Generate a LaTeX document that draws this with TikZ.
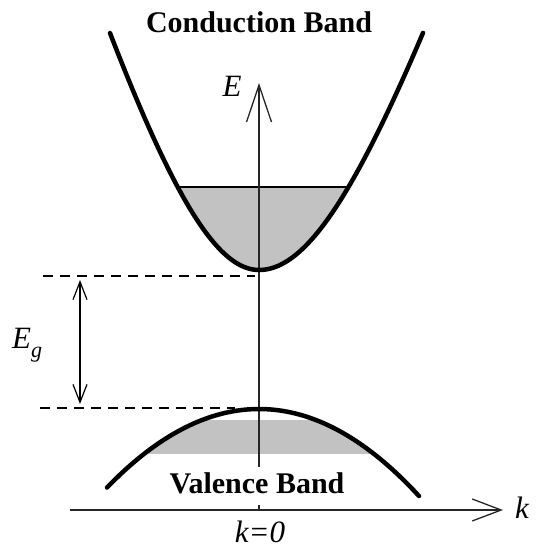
\documentclass[tikz,border=0pt]{standalone}
\usepackage{fontspec}
\setmainfont{Liberation Serif}
\usetikzlibrary{arrows.meta}
\definecolor{bandfill}{RGB}{194,194,194}
\begin{document}
\begin{tikzpicture}[x=1pt,y=-1pt,
  band/.style={line width=4.5pt, line join=round, line cap=round},
  axis/.style={line width=1.3pt, black!85},
  guide/.style={line width=1.3pt, dash pattern=on 10pt off 7pt},
  gaparrow/.style={line width=1.2pt, {Straight Barb[length=18pt,width=14pt]}-{Straight Barb[length=18pt,width=14pt]}},
  bandlabel/.style={font=\fontsize{30}{30}\selectfont\bfseries, inner sep=0pt, anchor=base},
  varlabel/.style={font=\fontsize{31}{31}\selectfont\itshape, inner sep=0pt, anchor=base},
]
\useasboundingbox (0,0) rectangle (535,548);

% coordinates
\coordinate (vbot) at (259,467);
\coordinate (vtop) at (259,83);
\coordinate (kL) at (70,510);
\coordinate (kR) at (503,510);
\coordinate (tickT) at (259,505);
\coordinate (tickB) at (259,510);
\coordinate (cMinL) at (43,276);
\coordinate (cMinR) at (255,276);
\coordinate (vMaxL) at (40,408);
\coordinate (vMaxR) at (235,408);
\coordinate (gT) at (80,280);
\coordinate (gB) at (80,404);
\coordinate (cfL) at (177.7,187);
\coordinate (cfR) at (348.5,187);

% conduction band filling
\begin{scope}
  \clip plot[domain=-149:0,samples=60] ({259+\x},{270-396.6*(sqrt(1+(\x/119.6)^2)-1)})
     -- plot[domain=0:164,samples=60] ({259+\x},{270-396.6*(sqrt(1+(\x/131.6)^2)-1)}) -- cycle;
  \fill[bandfill] (100,187) rectangle (430,280);
\end{scope}
\draw[line width=1.2pt] (cfL) -- (cfR);

% valence band filling
\begin{scope}
  \clip plot[domain=-152:160,samples=80] ({259+\x},{409+(0.05831*\x)*(0.05831*\x)}) -- cycle;
  \fill[bandfill] (100,420) rectangle (430,454);
\end{scope}

% guides
\draw[guide] (cMinL) -- (cMinR);
\draw[guide] (vMaxL) -- (vMaxR);
\draw[gaparrow] (gT) -- (gB);

% axes
\draw[axis, -{Straight Barb[length=37pt,width=25pt]}] (vbot) -- (vtop);
\draw[axis, -{Straight Barb[length=29pt,width=22pt]}] (kL) -- (kR);
\draw[axis] (tickT) -- (tickB);

% bands
\draw[band] plot[domain=-149:0,samples=60] ({259+\x},{270-396.6*(sqrt(1+(\x/119.6)^2)-1)})
   -- plot[domain=0:164,samples=60] ({259+\x},{270-396.6*(sqrt(1+(\x/131.6)^2)-1)});
\draw[band] plot[domain=-152:160,samples=80] ({259+\x},{409+(0.05831*\x)*(0.05831*\x)});

% labels
\node[bandlabel] (cb) at (259,33) {Conduction Band};
\node[bandlabel] (vb) at (257,493) {Valence Band};
\node[varlabel] (E) at (232,97) {E};
\node[varlabel, anchor=base west] (Eg) at (12,348) {E\raisebox{-9pt}{\fontsize{22}{22}\selectfont g}};
\node[varlabel, anchor=base west] (k) at (515,518) {k};
\node[varlabel] (k0) at (260,542) {k=0};
\end{tikzpicture}
\end{document}
